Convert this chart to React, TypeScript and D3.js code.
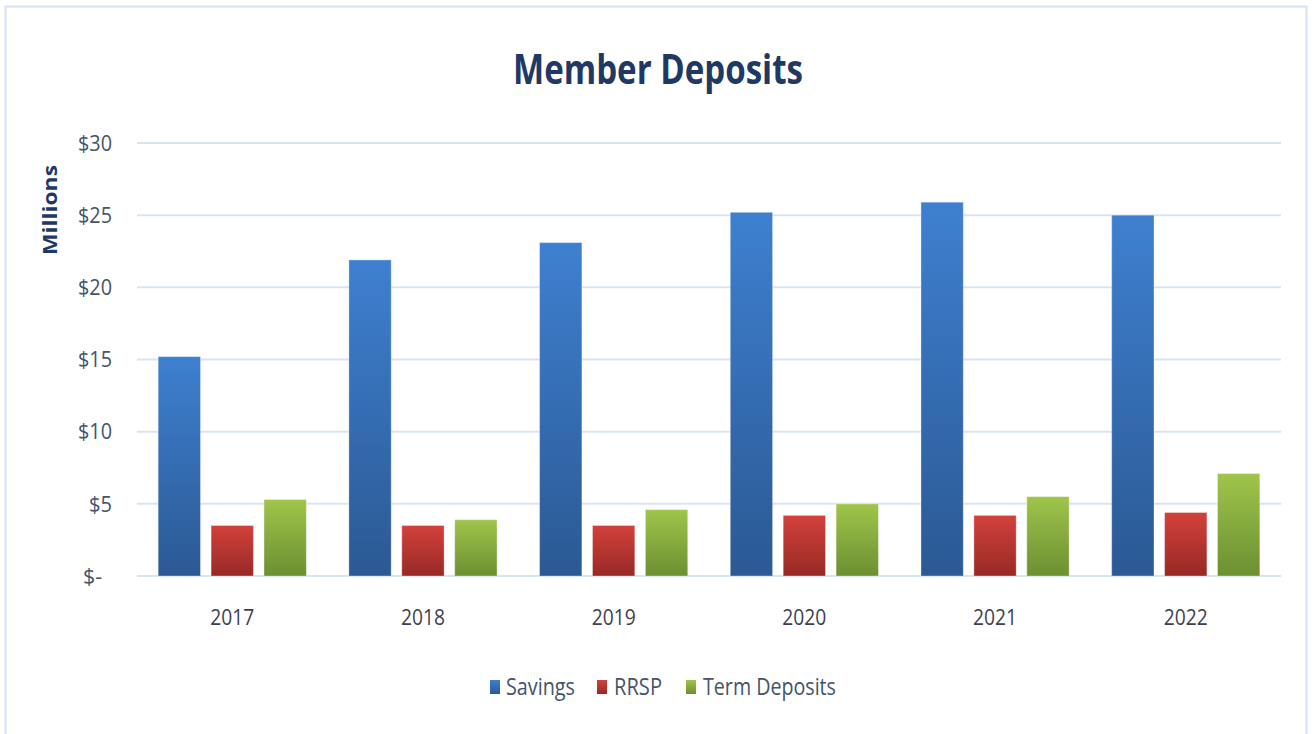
import React, { useEffect, useRef } from 'react';
import * as d3 from 'd3';

const years = ['2017', '2018', '2019', '2020', '2021', '2022'];
const seriesNames = ['Savings', 'RRSP', 'Term Deposits'];
const savings = [15.2, 21.9, 23.1, 25.2, 25.9, 25.0];
const rrsp = [3.5, 3.5, 3.5, 4.2, 4.2, 4.4];
const termDeposits = [5.3, 3.9, 4.6, 5.0, 5.5, 7.1];
const yTicks = [0, 5, 10, 15, 20, 25, 30];

const gradients = [
  ['#3e80d0', '#2b5993'],
  ['#d3413b', '#972926'],
  ['#9fc54b', '#6c8f31'],
];

const FONT = '"Liberation Sans Narrow", "Open Sans", sans-serif';

export default function App() {
  const svgRef = useRef<SVGSVGElement>(null);

  useEffect(() => {
    if (!svgRef.current) return;
    const width = 1315;
    const height = 734;
    const svg = d3.select(svgRef.current);
    svg.selectAll('*').remove();
    svg.attr('width', width).attr('height', height);

    const values = [savings, rrsp, termDeposits];

    const defs = svg.append('defs');
    gradients.forEach((g, i) => {
      const lg = defs.append('linearGradient')
        .attr('id', `grad${i}`)
        .attr('x1', 0).attr('y1', 0).attr('x2', 0).attr('y2', 1);
      lg.append('stop').attr('offset', '0%').attr('stop-color', g[0]);
      lg.append('stop').attr('offset', '100%').attr('stop-color', g[1]);
    });

    // frame
    svg.append('rect')
      .attr('x', 5.5).attr('y', 6.5)
      .attr('width', 1301).attr('height', 740)
      .attr('fill', '#fff')
      .attr('stroke', '#d6e2f3').attr('stroke-width', 2);

    const margin = { left: 137, right: 34, top: 143, bottom: 158 };
    const x0 = d3.scaleBand<string>()
      .domain(years)
      .range([margin.left, width - margin.right])
      .paddingInner(0.223)
      .paddingOuter(0.111);
    const x1 = d3.scaleBand<string>()
      .domain(seriesNames)
      .range([0, x0.bandwidth()])
      .paddingInner(0.2);
    const y = d3.scaleLinear()
      .domain([0, 30])
      .range([height - margin.bottom, margin.top]);

    // gridlines
    svg.append('g')
      .selectAll('line')
      .data(yTicks)
      .join('line')
      .attr('x1', margin.left)
      .attr('x2', width - margin.right)
      .attr('y1', d => y(d))
      .attr('y2', d => y(d))
      .attr('stroke', '#d9e4f3')
      .attr('stroke-width', 2);

    // y tick labels (accounting format: "$-" sits left of the right edge)
    svg.append('g')
      .selectAll('text')
      .data(yTicks)
      .join('text')
      .attr('x', d => (d === 0 ? 102 : 112))
      .attr('y', d => y(d))
      .attr('dy', '0.35em')
      .attr('text-anchor', 'end')
      .attr('textLength', d => (d === 0 ? 19 : String(d).length * 11 + 12))
      .attr('lengthAdjust', 'spacingAndGlyphs')
      .style('font-family', FONT)
      .style('font-size', '22px')
      .style('fill', '#44546a')
      .text(d => (d === 0 ? '$-' : `$${d}`));

    // y axis title
    svg.append('text')
      .attr('transform', 'translate(57,210) rotate(-90)')
      .attr('text-anchor', 'middle')
      .attr('textLength', 90)
      .attr('lengthAdjust', 'spacingAndGlyphs')
      .style('font-family', FONT)
      .style('font-size', '20px')
      .style('font-weight', 'bold')
      .style('fill', '#1f3864')
      .text('Millions');

    // bars
    const groups = svg.append('g')
      .selectAll('g')
      .data(years)
      .join('g')
      .attr('transform', d => `translate(${x0(d)},0)`);

    groups.selectAll('rect')
      .data((_, i) => seriesNames.map((s, k) => ({ s, k, v: values[k][i] })))
      .join('rect')
      .attr('x', d => x1(d.s)!)
      .attr('y', d => y(d.v))
      .attr('width', x1.bandwidth())
      .attr('height', d => y(0) - y(d.v))
      .attr('fill', d => `url(#grad${d.k})`)
      .attr('stroke', 'rgba(255,255,255,0.35)')
      .attr('stroke-width', 1);

    // x labels
    svg.append('g')
      .selectAll('text')
      .data(years)
      .join('text')
      .attr('x', d => x0(d)! + x0.bandwidth() / 2)
      .attr('y', 617)
      .attr('dy', '0.35em')
      .attr('text-anchor', 'middle')
      .attr('textLength', 44)
      .attr('lengthAdjust', 'spacingAndGlyphs')
      .style('font-family', FONT)
      .style('font-size', '22px')
      .style('fill', '#3f3f4f')
      .text(d => d);

    // title
    svg.append('text')
      .attr('x', 658)
      .attr('y', 84)
      .attr('text-anchor', 'middle')
      .attr('textLength', 290)
      .attr('lengthAdjust', 'spacingAndGlyphs')
      .style('font-family', FONT)
      .style('font-size', '42px')
      .style('font-weight', 'bold')
      .style('fill', '#1f3864')
      .text('Member Deposits');

    // legend
    const legendX = [490, 597, 686];
    const legendW = [69, 48, 133];
    const legend = svg.append('g')
      .selectAll('g')
      .data(seriesNames)
      .join('g')
      .attr('transform', (_, i) => `translate(${legendX[i]},687)`);
    legend.append('rect')
      .attr('x', 0).attr('y', -7)
      .attr('width', 10).attr('height', 14)
      .attr('fill', (_, i) => `url(#grad${i})`);
    legend.append('text')
      .attr('x', (_, i) => (i === 0 ? 16 : 17))
      .attr('dy', '0.35em')
      .attr('textLength', (_, i) => legendW[i])
      .attr('lengthAdjust', 'spacingAndGlyphs')
      .style('font-family', FONT)
      .style('font-size', '23px')
      .style('fill', '#44546a')
      .text(d => d);
  }, []);

  return (
    <svg ref={svgRef} style={{ position: 'absolute', left: 0, top: 0, background: '#fff' }} />
  );
}
